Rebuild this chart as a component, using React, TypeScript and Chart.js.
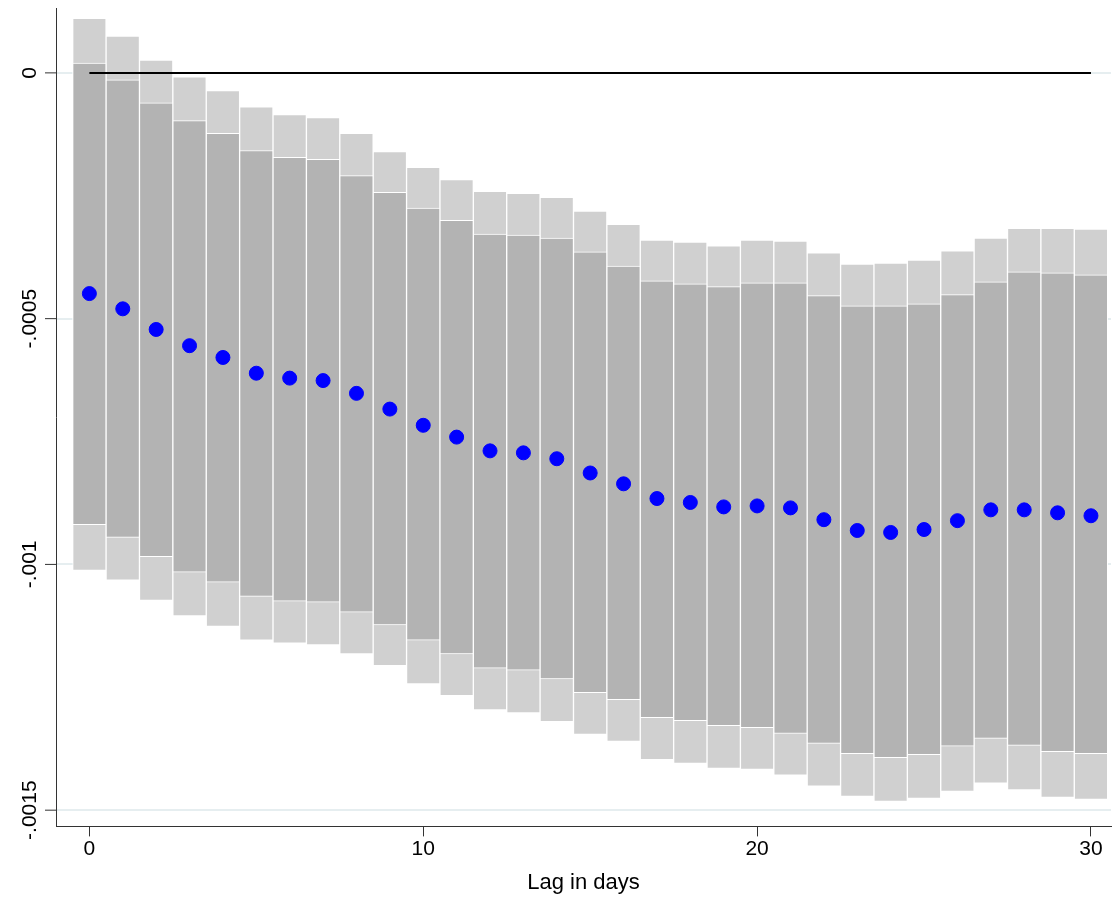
import { useEffect, useRef } from 'react'
import { Chart, registerables } from 'chart.js'

Chart.register(...registerables)

// values in units of 1e-4
const lags = [0,1,2,3,4,5,6,7,8,9,10,11,12,13,14,15,16,17,18,19,20,21,22,23,24,25,26,27,28,29,30]
const estimate = [-4.49,-4.80,-5.22,-5.55,-5.79,-6.11,-6.21,-6.26,-6.52,-6.84,-7.17,-7.41,-7.69,-7.73,-7.85,-8.14,-8.36,-8.66,-8.74,-8.83,-8.81,-8.85,-9.09,-9.31,-9.35,-9.29,-9.11,-8.89,-8.89,-8.95,-9.01]
const outerHi = [1.11,0.75,0.26,-0.08,-0.36,-0.69,-0.85,-0.91,-1.23,-1.60,-1.92,-2.17,-2.41,-2.45,-2.53,-2.81,-3.08,-3.40,-3.44,-3.52,-3.40,-3.42,-3.66,-3.89,-3.87,-3.81,-3.62,-3.36,-3.16,-3.16,-3.18]
const innerHi = [0.20,-0.14,-0.61,-0.97,-1.23,-1.58,-1.72,-1.76,-2.09,-2.43,-2.75,-3.00,-3.28,-3.30,-3.36,-3.64,-3.93,-4.23,-4.29,-4.35,-4.27,-4.27,-4.53,-4.74,-4.74,-4.70,-4.51,-4.25,-4.05,-4.07,-4.11]
const innerLo = [-9.19,-9.45,-9.84,-10.16,-10.36,-10.65,-10.75,-10.77,-10.97,-11.23,-11.54,-11.82,-12.11,-12.15,-12.33,-12.61,-12.75,-13.12,-13.18,-13.28,-13.32,-13.44,-13.64,-13.85,-13.93,-13.87,-13.70,-13.54,-13.68,-13.81,-13.85]
const outerLo = [-10.12,-10.32,-10.73,-11.05,-11.26,-11.54,-11.60,-11.64,-11.82,-12.06,-12.43,-12.67,-12.96,-13.02,-13.20,-13.46,-13.60,-13.97,-14.05,-14.15,-14.17,-14.29,-14.51,-14.72,-14.82,-14.76,-14.62,-14.45,-14.59,-14.74,-14.78]
const yTicks = [0, -5, -10, -15]
const yTickLabels = ['0', '-.0005', '-.001', '-.0015']
const xTicks = [0, 10, 20, 30]

const FONT = 'Arial, "Liberation Sans", sans-serif'

const rotatedYLabels = {
  id: 'rotatedYLabels',
  afterDraw(chart: any) {
    const { ctx, scales, chartArea } = chart
    const y = scales.y
    ctx.save()
    ctx.strokeStyle = '#333'
    ctx.lineWidth = 1
    ctx.fillStyle = '#000'
    ctx.font = `21px ${FONT}`
    ctx.textAlign = 'center'
    ctx.textBaseline = 'bottom'
    yTicks.forEach((v, i) => {
      const py = y.getPixelForValue(v)
      ctx.beginPath()
      ctx.moveTo(chartArea.left - 11, py)
      ctx.lineTo(chartArea.left, py)
      ctx.stroke()
      ctx.save()
      ctx.translate(chartArea.left - 15, py)
      ctx.rotate(-Math.PI / 2)
      ctx.fillText(yTickLabels[i], 0, 0)
      ctx.restore()
    })
    ctx.restore()
  },
}

export default function App() {
  const canvasRef = useRef<HTMLCanvasElement>(null)

  useEffect(() => {
    if (!canvasRef.current) return
    const chart = new Chart(canvasRef.current, {
      type: 'bar',
      data: {
        datasets: [
          {
            type: 'scatter',
            data: lags.map((x, i) => ({ x, y: estimate[i] })),
            backgroundColor: '#0000ff',
            borderColor: '#0000ff',
            pointRadius: 7,
            order: 0,
          } as any,
          {
            type: 'line',
            data: [{ x: lags[0], y: 0 }, { x: lags[lags.length - 1], y: 0 }],
            borderColor: '#000',
            borderWidth: 2,
            pointRadius: 0,
            order: 1,
          } as any,
          {
            data: lags.map((x, i) => ({ x, y: [innerLo[i], innerHi[i]] })),
            backgroundColor: '#b3b3b3',
            borderColor: '#ffffff',
            borderWidth: 1,
            borderSkipped: false,
            grouped: false,
            barPercentage: 1,
            categoryPercentage: 1,
            order: 2,
          } as any,
          {
            data: lags.map((x, i) => ({ x, y: [outerLo[i], outerHi[i]] })),
            backgroundColor: '#d0d0d0',
            borderColor: '#ffffff',
            borderWidth: 1,
            borderSkipped: false,
            grouped: false,
            barPercentage: 1,
            categoryPercentage: 1,
            order: 3,
          } as any,
        ],
      },
      options: {
        animation: false,
        responsive: false,
        layout: { padding: { left: 56, right: 7, top: 5, bottom: 0 } },
        plugins: { legend: { display: false }, tooltip: { enabled: false } },
        scales: {
          x: {
            type: 'linear',
            offset: false,
            min: -1,
            max: 30.6,
            afterBuildTicks: (s: any) => { s.ticks = xTicks.map((v) => ({ value: v })) },
            grid: { drawOnChartArea: false, drawTicks: true, tickLength: 10, color: '#333', offset: false },
            border: { color: '#333', width: 1 },
            ticks: { color: '#000', font: { size: 21, family: FONT }, padding: 0 },
            title: { display: true, text: 'Lag in days', color: '#000', font: { size: 22, family: FONT }, padding: { top: 8, bottom: 5 } },
          },
          y: {
            min: -15.33,
            max: 1.32,
            afterBuildTicks: (s: any) => { s.ticks = yTicks.map((v) => ({ value: v })) },
            afterFit: (s: any) => { s.width = 0 },
            ticks: { display: false },
            grid: { color: '#e6eef0', lineWidth: 2, drawTicks: false },
            border: { color: '#333', width: 1 },
          },
        },
      },
      plugins: [rotatedYLabels],
    } as any)
    return () => chart.destroy()
  }, [])

  return (
    <div style={{ position: 'absolute', left: 0, top: 0, width: 1119, height: 901, background: '#fff' }}>
      <canvas ref={canvasRef} width={1119} height={901} />
    </div>
  )
}
